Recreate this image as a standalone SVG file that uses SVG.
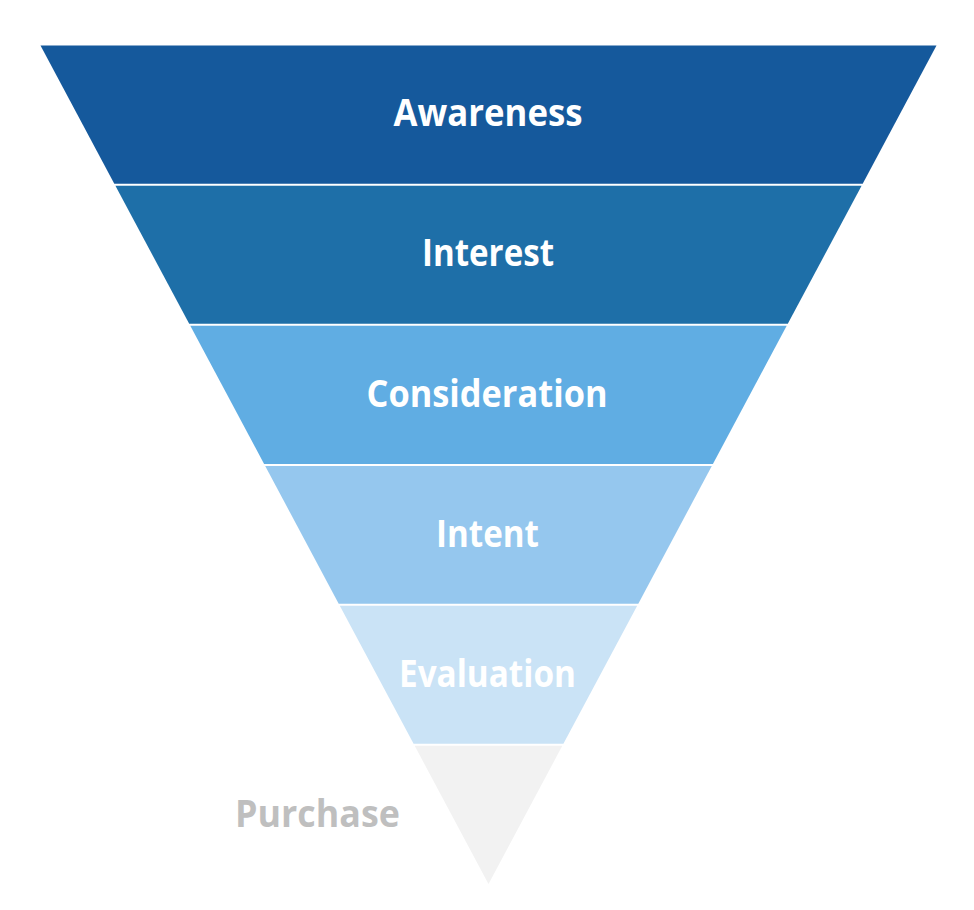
<svg xmlns="http://www.w3.org/2000/svg" width="974" height="910" viewBox="0 0 974 910">
<style>
.lbl{font-family:"Open Sans","Liberation Sans",sans-serif;font-weight:700;font-size:37px;fill:#ffffff;text-anchor:middle}
.grey{fill:#bfbfbf}
</style>
<rect width="974" height="910" fill="#ffffff"/>
<g id="awareness">
<polygon points="40.5,45.5 936.5,45.5 862.7,183.7 114.3,183.7" fill="#15599c"/>
<text class="lbl" x="488" y="125.5" textLength="189" lengthAdjust="spacingAndGlyphs">Awareness</text>
</g>
<g id="interest">
<polygon points="115.4,185.7 861.6,185.7 787.8,323.8 189.2,323.8" fill="#1e6fa8"/>
<text class="lbl" x="488" y="265.5" textLength="132" lengthAdjust="spacingAndGlyphs">Interest</text>
</g>
<g id="consideration">
<polygon points="190.3,325.8 786.7,325.8 712.9,464 264.1,464" fill="#60ade3"/>
<text class="lbl" x="487" y="406.5" textLength="241" lengthAdjust="spacingAndGlyphs">Consideration</text>
</g>
<g id="intent">
<polygon points="265.2,466 711.8,466 638.3,603.7 338.7,603.7" fill="#95c7ee"/>
<text class="lbl" x="487.5" y="546.5" textLength="103" lengthAdjust="spacingAndGlyphs">Intent</text>
</g>
<g id="evaluation">
<polygon points="339.8,605.7 637.2,605.7 563.4,743.8 413.6,743.8" fill="#cae3f6"/>
<text class="lbl" x="487.5" y="686.5" textLength="177" lengthAdjust="spacingAndGlyphs">Evaluation</text>
</g>
<g id="purchase">
<polygon points="414.7,745.8 562.3,745.8 488.5,884" fill="#f2f2f2"/>
<text class="lbl grey" x="317.5" y="826.5" textLength="165" lengthAdjust="spacingAndGlyphs">Purchase</text>
</g>
<g id="connectors"/>
</svg>
